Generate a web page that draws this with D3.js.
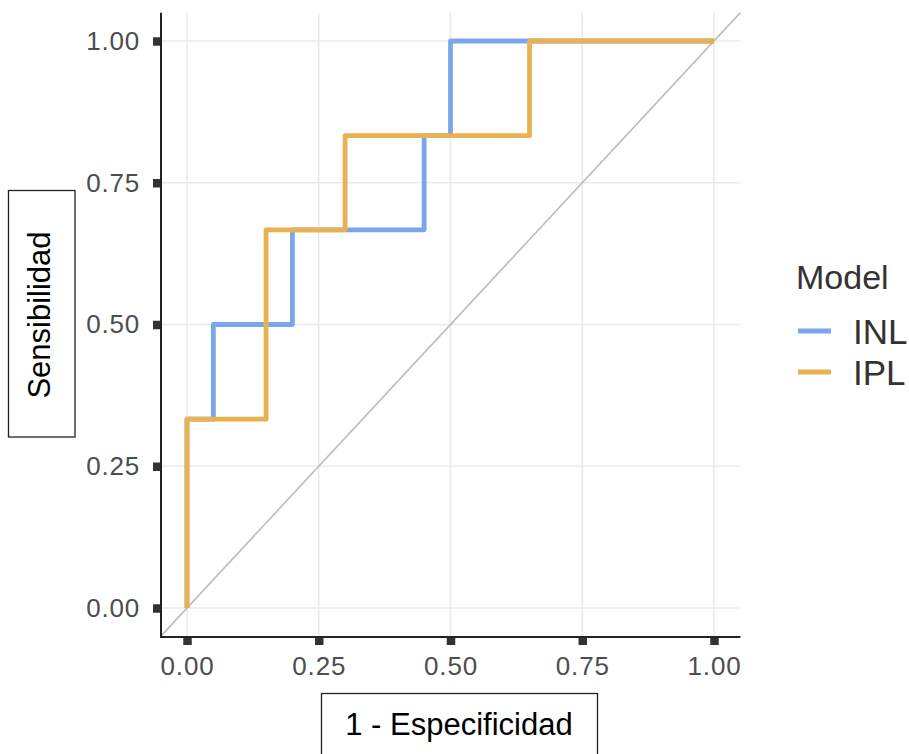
<!DOCTYPE html>
<html>
<head>
<meta charset="utf-8">
<script src="https://cdn.jsdelivr.net/npm/d3@7"></script>
<style>
  body { margin: 0; background: #fff; }
  svg text { font-family: "Liberation Sans", Arial, Helvetica, sans-serif; }
</style>
</head>
<body>
<div id="chart"></div>
<script>
// ROC points (false positive rate / true positive rate)
const modelNames = ["INL", "IPL"];
const modelColors = ["#7aa7ea", "#e8b250"];
const fprINL = [0, 0, 0.05, 0.2, 0.45, 0.5, 1];
const tprINL = [0, 0.333, 0.5, 0.667, 0.833, 1, 1];
const fprIPL = [0, 0, 0.15, 0.3, 0.65, 1];
const tprIPL = [0, 0.333, 0.667, 0.833, 1, 1];
const tickValues = [0, 0.25, 0.5, 0.75, 1];

const width = 909;
const height = 754;

const svg = d3.select("#chart").append("svg")
    .attr("width", width)
    .attr("height", height);

// panel spans the data range plus the usual 5% padding
const x = d3.scaleLinear().domain([-0.05, 1.05]).range([160.65, 740.35]);
const y = d3.scaleLinear().domain([-0.05, 1.05]).range([636.35, 12.65]);

// grid
const grid = svg.append("g");
grid.selectAll(".gx").data(tickValues).enter().append("line")
    .attr("x1", d => x(d)).attr("x2", d => x(d))
    .attr("y1", y.range()[0]).attr("y2", y.range()[1])
    .attr("stroke", "#ebebeb").attr("stroke-width", 1.6);
grid.selectAll(".gy").data(tickValues).enter().append("line")
    .attr("y1", d => y(d)).attr("y2", d => y(d))
    .attr("x1", x.range()[0]).attr("x2", x.range()[1])
    .attr("stroke", "#ebebeb").attr("stroke-width", 1.6);

// reference diagonal
svg.append("line")
    .attr("x1", x(-0.05)).attr("y1", y(-0.05))
    .attr("x2", x(1.05)).attr("y2", y(1.05))
    .attr("stroke", "#bdbdbd").attr("stroke-width", 1.6);

// ROC curves
const series = [
    fprINL.map((f, i) => ({ fpr: f, tpr: tprINL[i] })),
    fprIPL.map((f, i) => ({ fpr: f, tpr: tprIPL[i] }))
];
const rocLine = d3.line()
    .x(d => x(d.fpr))
    .y(d => y(d.tpr))
    .curve(d3.curveStepAfter);

series.forEach((s, i) => {
    svg.append("path")
        .attr("d", rocLine(s))
        .attr("fill", "none")
        .attr("stroke", modelColors[i])
        .attr("stroke-width", 4.8)
        .attr("stroke-linejoin", "round");
});

// axes: ggplot style with chunky square ticks
const fmt = d3.format(".2f");
const xAxis = svg.append("g")
    .attr("transform", `translate(0, 637)`)
    .call(d3.axisBottom(x).tickValues(tickValues).tickFormat(fmt).tickSize(8).tickPadding(11));
const yAxis = svg.append("g")
    .attr("transform", `translate(161, 0)`)
    .call(d3.axisLeft(y).tickValues(tickValues).tickFormat(fmt).tickSize(8).tickPadding(13));

[xAxis, yAxis].forEach(a => {
    a.select(".domain").remove();
    a.selectAll(".tick line").attr("stroke", "#333").attr("stroke-width", 8.5);
    a.selectAll(".tick text")
        .attr("fill", "#4d4d4d")
        .style("font-size", "26px")
        .style("letter-spacing", "0.8px");
});
xAxis.selectAll(".tick text").attr("dy", "0.72em");

// axis lines
svg.append("line")
    .attr("x1", 161).attr("x2", 161)
    .attr("y1", y.range()[1]).attr("y2", 638)
    .attr("stroke", "#222").attr("stroke-width", 2);
svg.append("line")
    .attr("x1", 160).attr("x2", x.range()[1])
    .attr("y1", 637).attr("y2", 637)
    .attr("stroke", "#222").attr("stroke-width", 2);

// axis titles in boxes
svg.append("rect")
    .attr("x", 321.5).attr("y", 693.5).attr("width", 276).attr("height", 80)
    .attr("fill", "none").attr("stroke", "#222").attr("stroke-width", 1.3);
svg.append("text")
    .attr("x", 459).attr("y", 735)
    .attr("text-anchor", "middle")
    .attr("fill", "#000")
    .style("font-size", "31px")
    .text("1 - Especificidad");

svg.append("rect")
    .attr("x", 8.5).attr("y", 190.5).attr("width", 66.5).attr("height", 246.5)
    .attr("fill", "none").attr("stroke", "#222").attr("stroke-width", 1.3);
svg.append("text")
    .attr("transform", "translate(50, 315) rotate(-90)")
    .attr("text-anchor", "middle")
    .attr("fill", "#000")
    .style("font-size", "31px")
    .text("Sensibilidad");

// legend
const legend = svg.append("g");
legend.append("text")
    .attr("x", 796).attr("y", 289)
    .attr("fill", "#333")
    .style("font-size", "34px")
    .text("Model");
modelNames.forEach((name, i) => {
    const ly = 331 + i * 41;
    legend.append("line")
        .attr("x1", 798).attr("x2", 831)
        .attr("y1", ly).attr("y2", ly)
        .attr("stroke", modelColors[i]).attr("stroke-width", 5);
    legend.append("text")
        .attr("x", 853).attr("y", ly + 13)
        .attr("fill", "#333")
        .style("font-size", "35px")
        .text(name);
});
</script>
</body>
</html>
